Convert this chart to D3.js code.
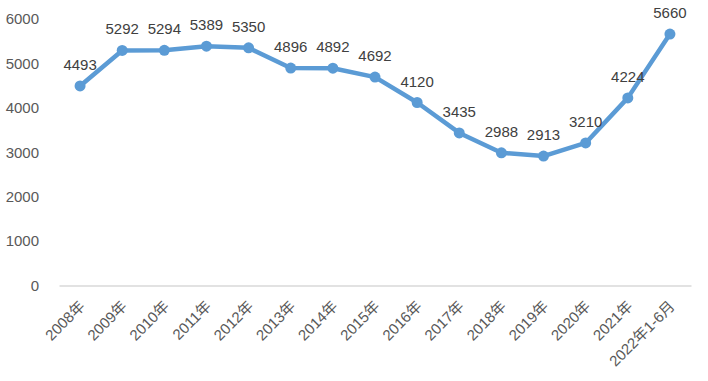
<!DOCTYPE html>
<html>
<head>
<meta charset="utf-8">
<script src="https://cdn.jsdelivr.net/npm/d3@7"></script>
<style>
body { margin: 0; background: #fff; }
</style>
</head>
<body>
<div id="chart"></div>
<script>
var years = ["2008年", "2009年", "2010年", "2011年", "2012年", "2013年", "2014年", "2015年",
    "2016年", "2017年", "2018年", "2019年", "2020年", "2021年", "2022年1-6月"];
var values = [4493, 5292, 5294, 5389, 5350, 4896, 4892, 4692, 4120, 3435, 2988, 2913, 3210, 4224, 5660];
var yTicks = [0, 1000, 2000, 3000, 4000, 5000, 6000];

var width = 708, height = 381;
var plotLeft = 59, plotRight = 691, plotTop = 19, plotBottom = 285.5;
var font = "'Liberation Sans', 'Noto Sans CJK SC', sans-serif";

//Make an SVG Container
var svg = d3.select("#chart").append("svg")
    .attr("width", width)
    .attr("height", height);

var x = d3.scaleBand()
    .domain(years)
    .range([plotLeft, plotRight]);

var y = d3.scaleLinear()
    .domain([0, 6000])
    .range([plotBottom, plotTop]);

// y axis labels
svg.append("g")
    .attr("transform", "translate(" + (plotLeft - 17) + ",0)")
    .call(d3.axisLeft(y).tickValues(yTicks).tickSize(0).tickFormat(d3.format("d")))
    .call(function(g) { g.select(".domain").remove(); })
    .selectAll("text")
    .attr("font-family", font)
    .attr("font-size", 15)
    .attr("fill", "#595959");

// x axis
var xAxis = svg.append("g")
    .attr("transform", "translate(0," + plotBottom + ")")
    .call(d3.axisBottom(x).tickSize(0).tickPadding(0));

xAxis.select(".domain")
    .attr("stroke", "#d9d9d9")
    .attr("stroke-width", 1.5);

xAxis.selectAll("text")
    .attr("font-family", font)
    .attr("font-size", 15)
    .attr("fill", "#595959")
    .attr("text-anchor", "end")
    .attr("dy", "0.35em")
    .attr("transform", "translate(2,18) rotate(-45)");

var cx = function(d, i) { return x(years[i]) + x.bandwidth() / 2; };

// line
var line = d3.line()
    .x(function(d, i) { return cx(d, i); })
    .y(function(d) { return y(d); });

svg.append("path")
    .datum(values)
    .attr("d", line)
    .attr("fill", "none")
    .attr("stroke", "#5b9bd5")
    .attr("stroke-width", 4.5)
    .attr("stroke-linejoin", "round");

svg.selectAll("circle.pt")
    .data(values)
    .enter().append("circle")
    .attr("class", "pt")
    .attr("cx", cx)
    .attr("cy", function(d) { return y(d); })
    .attr("r", 5.5)
    .attr("fill", "#5b9bd5");

// data labels
svg.selectAll("text.lbl")
    .data(values)
    .enter().append("text")
    .attr("class", "lbl")
    .attr("x", cx)
    .attr("y", function(d) { return y(d) - 16; })
    .attr("text-anchor", "middle")
    .attr("font-family", font)
    .attr("font-size", 15)
    .attr("fill", "#404040")
    .text(function(d) { return d; });
</script>
</body>
</html>
